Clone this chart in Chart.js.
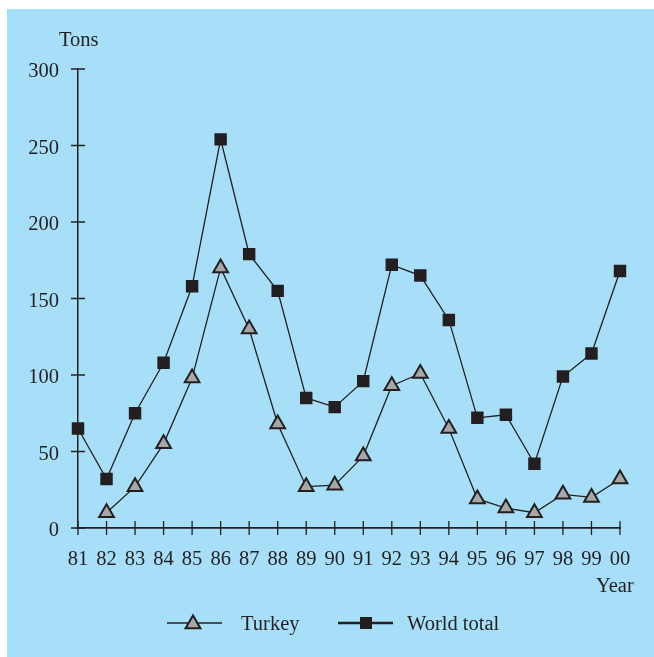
<!DOCTYPE html>
<html>
<head>
<meta charset="utf-8">
<script src="https://cdn.jsdelivr.net/npm/chart.js@4/dist/chart.umd.min.js"></script>
<style>
  html, body { margin: 0; padding: 0; background: #fff; }
  #wrap { width: 654px; height: 657px; }
</style>
</head>
<body>
<div id="wrap"><canvas id="tonsChart" width="654" height="657"></canvas></div>
<script>
const years = ['81','82','83','84','85','86','87','88','89','90','91','92','93','94','95','96','97','98','99','00'];
const turkey = [null, 10, 27, 55, 98, 170, 130, 68, 27, 28, 47, 93, 101, 65, 19, 13, 10, 22, 20, 32];
const worldTotal = [65, 32, 75, 108, 158, 254, 179, 155, 85, 79, 96, 172, 165, 136, 72, 74, 42, 99, 114, 168];
const yTicks = [0, 50, 100, 150, 200, 250, 300];

const ink = '#231f20';
const panel = '#a8dff8';
const font = '"Liberation Serif", "Times New Roman", serif';

// blue panel, axis titles, crossing tick marks and the legend
const decor = {
  id: 'decor',
  beforeDraw(chart) {
    const c = chart.ctx;
    c.save();
    c.fillStyle = panel;
    c.fillRect(7, 9, chart.width - 7, chart.height - 9);
    c.restore();
  },
  beforeDatasetsDraw(chart) {
    const c = chart.ctx;
    const x = chart.scales.x, y = chart.scales.y;
    const area = chart.chartArea;
    c.save();
    c.strokeStyle = ink;
    c.lineWidth = 1.3;
    c.beginPath();
    x.ticks.forEach((t, i) => {
      const px = x.getPixelForTick(i);
      c.moveTo(px, area.bottom - 7);
      c.lineTo(px, area.bottom + 7);
    });
    y.ticks.forEach((t, i) => {
      const py = y.getPixelForTick(i);
      c.moveTo(area.left - 7, py);
      c.lineTo(area.left + 7, py);
    });
    c.stroke();
    c.restore();
  },
  afterDraw(chart) {
    const c = chart.ctx;
    c.save();
    c.fillStyle = ink;
    c.font = '20.5px ' + font;
    c.textBaseline = 'alphabetic';
    c.textAlign = 'left';
    c.fillText('Tons', 59, 46);
    c.fillText('Year', 596, 592);

    // legend
    const ly = 623;
    const ds = chart.data.datasets;
    // Turkey
    c.strokeStyle = ink;
    c.lineWidth = 1.3;
    c.beginPath(); c.moveTo(167, ly); c.lineTo(222, ly); c.stroke();
    Chart.helpers.drawPoint(c, { pointStyle: 'triangle', radius: 8.5, borderWidth: 2 }, 193, ly + 1);
    c.fillStyle = ds[0].pointBackgroundColor;
    c.fill();
    c.strokeStyle = ink;
    c.lineWidth = 2;
    c.stroke();
    // World total
    c.lineWidth = 2.6;
    c.beginPath(); c.moveTo(338, ly); c.lineTo(393, ly); c.stroke();
    c.fillStyle = ink;
    c.fillRect(360, ly - 6, 12, 12);
    c.fillStyle = ink;
    c.fillText(ds[0].label, 241, ly + 7);
    c.fillText(ds[1].label, 407, ly + 7);
    c.restore();
  }
};

new Chart(document.getElementById('tonsChart').getContext('2d'), {
  type: 'line',
  data: {
    labels: years,
    datasets: [{
      label: 'Turkey',
      data: turkey,
      borderColor: ink,
      borderWidth: 1.3,
      pointStyle: 'triangle',
      pointRadius: 8.5,
      pointBorderWidth: 2,
      pointBorderColor: ink,
      pointBackgroundColor: '#a7a7a7',
      tension: 0,
      spanGaps: false
    }, {
      label: 'World total',
      data: worldTotal,
      borderColor: ink,
      borderWidth: 1.3,
      pointStyle: 'rect',
      pointRadius: 8.8,
      pointBorderWidth: 0,
      pointBackgroundColor: ink,
      tension: 0
    }]
  },
  options: {
    responsive: false,
    animation: false,
    devicePixelRatio: 1,
    layout: { padding: { top: 69, right: 34, left: 0, bottom: 0 } },
    plugins: {
      legend: { display: false },
      tooltip: { enabled: false }
    },
    scales: {
      x: {
        offset: false,
        grid: { drawOnChartArea: false, drawTicks: false },
        border: { display: true, color: ink, width: 1.8 },
        ticks: { color: ink, font: { family: font, size: 20.5 }, padding: 19, maxRotation: 0, autoSkip: false },
        afterFit(scale) { scale.height = 129; }
      },
      y: {
        min: 0,
        max: 300,
        afterBuildTicks(scale) { scale.ticks = yTicks.map(v => ({ value: v })); },
        grid: { drawOnChartArea: false, drawTicks: false },
        border: { display: true, color: ink, width: 1.5 },
        ticks: { color: ink, font: { family: font, size: 20.5 }, padding: 19, labelOffset: 3 },
        afterFit(scale) { scale.width = 78; }
      }
    }
  },
  plugins: [decor]
});
</script>
</body>
</html>
